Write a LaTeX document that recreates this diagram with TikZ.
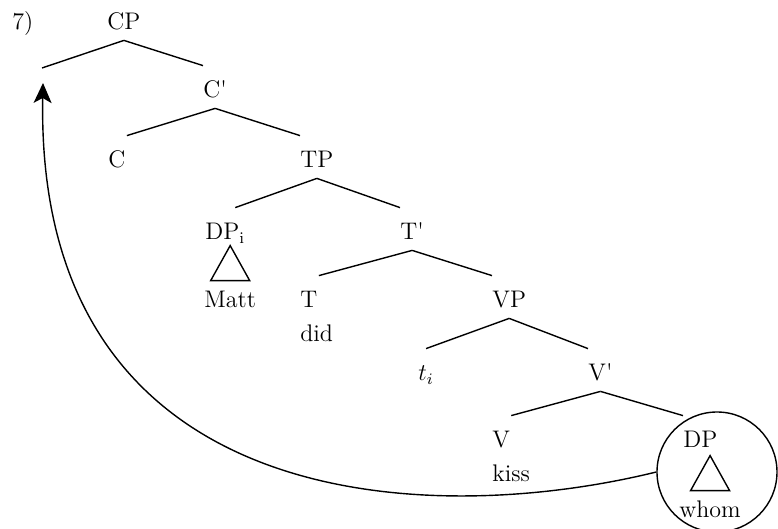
\documentclass[tikz,border=0pt]{standalone}
\usepackage{tikz}
\usetikzlibrary{arrows.meta, calc}
\tikzset{
  lbl/.style={anchor=base west,inner xsep=0pt,inner ysep=5pt,
    text height=11pt,text depth=0pt,font=\fontsize{12}{14}\selectfont},
  branch/.style={line width=0.7pt},
  move/.style={-{Stealth[length=10pt,width=9pt,inset=2.5pt]},line width=0.7pt},
}
\newcommand{\roof}[2]{\draw[branch] ($(#1.north)+(#2-19.5,5)$) -- ($(#1.north)+(#2+19.5,5)$)
  -- ($(#1.north)+(#2,-30)$) -- cycle;}

\begin{document}
\begin{tikzpicture}[x=0.5pt,y=-0.5pt]
    \useasboundingbox (0,0) rectangle (778,529);
    % labels
    \node[lbl] (num) at (12,30) {7)};
    \node[lbl] (cp) at (107,30) {CP};
    \coordinate (spec) at (42,68);
    \node[lbl] (cbar) at (203,98) {C\textquotesingle};
    \node[lbl] (c) at (108,168) {C};
    \node[lbl] (tp) at (300,168) {TP};
    \node[lbl] (dpi) at (205,240) {DP$_{\mathrm{i}}$};
    \node[lbl] (tbar) at (400,240) {T\textquotesingle};
    \node[lbl] (matt) at (204,308) {Matt};
    \node[lbl] (t) at (300,308) {T};
    \node[lbl] (did) at (300,342) {did};
    \node[lbl] (vp) at (492,308) {VP};
    \node[lbl] (trace) at (418,381) {$t_i$};
    \node[lbl] (vbar) at (588,381) {V\textquotesingle};
    \node[lbl] (v) at (492,448) {V};
    \node[lbl] (kiss) at (492,482) {kiss};
    \node[lbl] (dp) at (683,448) {DP};
    \node[lbl] (whom) at (679,518) {whom};
    % branches
    \draw[branch] (cp.south) -- (spec);
    \draw[branch] (cp.south) -- (cbar.north west);
    \draw[branch] (cbar.south) -- ([xshift=5pt]c.north);
    \draw[branch] (cbar.south) -- (tp.north west);
    \draw[branch] (tp.south) -- ([xshift=5pt]dpi.north);
    \draw[branch] (tp.south) -- (tbar.north west);
    \draw[branch] (tbar.south) -- ([xshift=5pt]t.north);
    \draw[branch] (tbar.south) -- (vp.north west);
    \draw[branch] (vp.south) -- (trace.north);
    \draw[branch] (vp.south) -- (vbar.north west);
    \draw[branch] (vbar.south) -- ([xshift=5pt]v.north);
    \draw[branch] (vbar.south) -- (dp.north west);
    \roof{matt}{0}
    \roof{whom}{0}
    % movement
    \node[circle,draw,line width=0.7pt,minimum size=60pt] (ring) at (717,472) {};
    \coordinate (land) at (43,83);
    \draw[move] (ring.west) .. controls (420,530) and (35,510) .. (land);
\end{tikzpicture}
\end{document}
